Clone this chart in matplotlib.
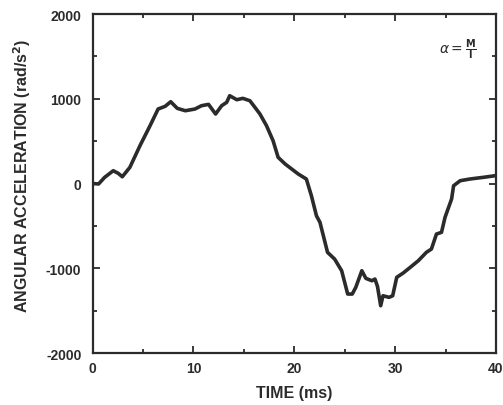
import matplotlib
matplotlib.use("Agg")
import matplotlib.pyplot as plt
from matplotlib.ticker import MultipleLocator

plt.rcParams["axes.unicode_minus"] = False

time_ms = [0.0, 0.6, 1.2, 2.05, 2.55, 2.95, 3.7, 4.7, 5.7, 6.5, 7.2, 7.75, 8.4, 9.2,
           10.15, 10.8, 11.5, 12.2, 12.8, 13.3, 13.6, 14.3, 14.9, 15.6, 16.1, 16.6,
           17.25, 17.9, 18.4, 19.1, 19.75, 20.4, 21.2, 21.7, 22.2, 22.55, 23.3, 24.0,
           24.7, 25.3, 25.75, 26.1, 26.7, 27.1, 27.7, 28.0, 28.25, 28.57, 28.8, 29.4,
           29.76, 30.16, 30.8, 31.5, 32.3, 33.1, 33.6, 34.1, 34.6, 34.95, 35.6, 35.8,
           36.45, 37.4, 38.75, 39.9, 40.0]
angular_accel = [0, -5, 73, 151, 120, 80, 191, 446, 682, 879, 911, 965, 887, 859,
                 879, 918, 934, 820, 918, 958, 1036, 989, 1005, 977, 899, 820,
                 682, 505, 309, 230, 171, 112, 53, -144, -380, -458, -812, -891,
                 -1029, -1304, -1304, -1225, -1029, -1119, -1147, -1127, -1213, -1442, -1324, -1343,
                 -1324, -1107, -1056, -989, -911, -812, -773, -596, -576, -399, -183, -26,
                 33, 53, 73, 92, 95]

xticks = [0, 10, 20, 30, 40]
yticks = [-2000, -1000, 0, 1000, 2000]
ytick_labels = ["-2000", "-1000", "0", "1000", "2000"]

fig = plt.figure(figsize=(5.03, 4.06), dpi=100)
ax = fig.add_axes([0.184, 0.128, 0.802, 0.835])
ink = "#2b2b2b"
ax.plot(time_ms, angular_accel, color=ink, lw=2.6, solid_joinstyle="round")
ax.set_xlim(0, 40)
ax.set_ylim(-2000, 2000)
ax.set_xticks(xticks)
ax.set_yticks(yticks)
ax.set_yticklabels(ytick_labels)
ax.xaxis.set_minor_locator(MultipleLocator(5))
ax.yaxis.set_minor_locator(MultipleLocator(500))
ax.tick_params(which="both", direction="in", top=True, right=True, color=ink,
               width=1.3, labelsize=10, labelcolor=ink)
ax.tick_params(axis="y", which="major", pad=8)
ax.tick_params(axis="x", which="major", pad=6)
ax.tick_params(which="major", length=5)
ax.tick_params(which="minor", length=3)
for lab in ax.get_xticklabels() + ax.get_yticklabels():
    lab.set_fontweight("bold")
    lab.set_family("Liberation Sans")
for s in ax.spines.values():
    s.set_linewidth(1.6)
    s.set_color(ink)
ax.set_xlabel("TIME (ms)", fontsize=11.5, fontweight="bold", family="Liberation Sans",
              color=ink)
ax.xaxis.set_label_coords(0.5, -0.115)
ax.set_ylabel("ANGULAR ACCELERATION (rad/s$^\\mathbf{2}$)", fontsize=11.5, fontweight="bold",
              family="Liberation Sans", color=ink)
ax.yaxis.set_label_coords(-0.175, 0.525)
ax.yaxis.label.set_va("center")
ax.xaxis.label.set_va("center")
ax.text(36.2, 1590, r"$\alpha = \frac{\mathbf{M}}{\mathbf{I}}$", fontsize=10, color=ink,
        ha="center", va="center")
fig.savefig("out.png", dpi=100)
